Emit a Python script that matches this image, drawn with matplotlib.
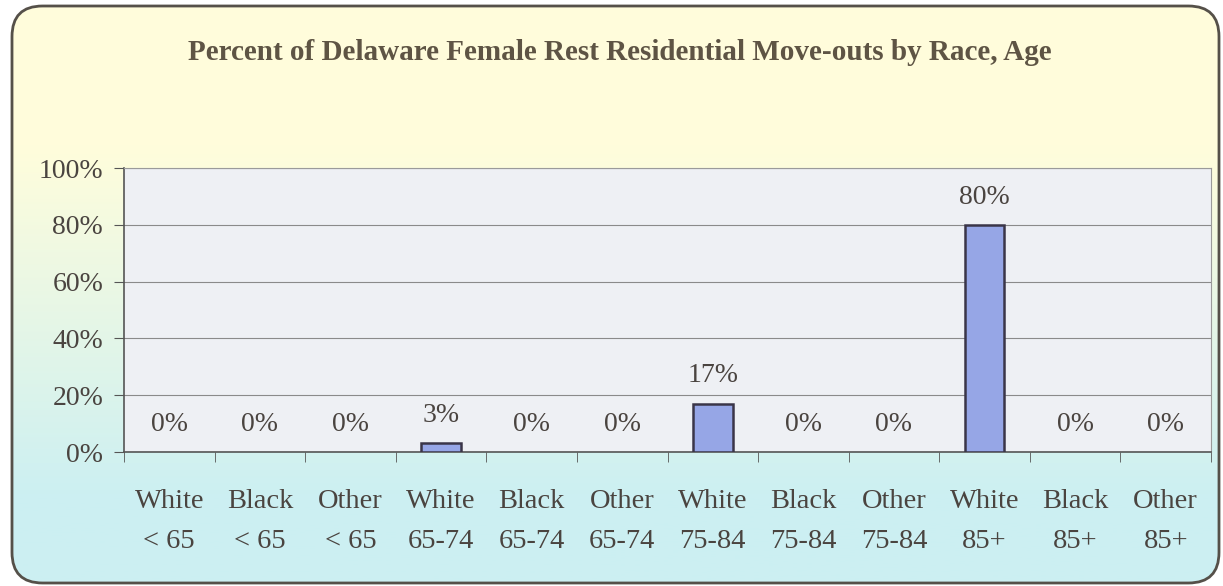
import numpy as np
import matplotlib
matplotlib.use("Agg")
import matplotlib.pyplot as plt
from matplotlib.patches import FancyBboxPatch
from matplotlib.ticker import PercentFormatter

races = ["White", "Black", "Other"] * 4
ages = ["< 65"] * 3 + ["65-74"] * 3 + ["75-84"] * 3 + ["85+"] * 3
percents = [0, 0, 0, 3, 0, 0, 17, 0, 0, 80, 0, 0]
title = "Percent of Delaware Female Rest Residential Move-outs by Race, Age"

text_color = "#4a4440"
plt.rcParams["font.family"] = ["Liberation Serif", "DejaVu Serif"]

fig = plt.figure(figsize=(12.23, 5.86), dpi=100, facecolor="white")

# background panel with rounded border and yellow-to-cyan gradient
bg = fig.add_axes([0, 0, 1, 1], zorder=-1)
bg.set_xlim(0, 1)
bg.set_ylim(0, 1)
bg.axis("off")
t = np.linspace(0, 1, 256).reshape(-1, 1, 1)
t = np.clip((t - 0.25) / 0.6, 0, 1)
top_rgb = np.array([1.0, 0.992, 0.86])
bot_rgb = np.array([0.80, 0.94, 0.95])
img = top_rgb * (1 - t) + bot_rgb * t
im = bg.imshow(img, extent=[0, 1, 0, 1], aspect="auto", origin="upper")
panel = FancyBboxPatch((12 / 1223, 3 / 586), 1207 / 1223, 577 / 586,
                       boxstyle="round,pad=0,rounding_size=0.025",
                       mutation_aspect=1223 / 586,
                       facecolor="none", edgecolor="#555049", linewidth=2)
bg.add_patch(panel)
im.set_clip_path(panel)

fig.text(0.507, 0.911, title, ha="center", va="center", fontsize=21,
         fontweight="bold", color="#5e5444")

ax = fig.add_axes([124 / 1223, 134 / 586, 1087 / 1223, 284 / 586])
ax.set_facecolor("#eef0f4")
x = np.arange(len(percents))
bars = ax.bar(x, percents, width=0.44, color="#96a6e6", edgecolor="#3a3548",
              linewidth=1.8, zorder=3)
for b, v in zip(bars, percents):
    if v == 0:
        b.set_visible(False)
for xi, v in zip(x, percents):
    ax.annotate(f"{v}%", (xi, v), xytext=(0, 20), textcoords="offset points",
                ha="center", va="center", fontsize=20, color=text_color)

ax.set_xlim(-0.5, len(percents) - 0.5)
ax.set_ylim(0, 100)
ax.set_yticks(range(0, 101, 20))
ax.yaxis.set_major_formatter(PercentFormatter(decimals=0))
ax.grid(axis="y", color="#8a8a8a", linewidth=0.8, zorder=1)
ax.tick_params(axis="y", length=7, color="#555", labelsize=20,
               labelcolor=text_color, pad=8)

ax.set_xticks(x)
ax.set_xticklabels([f"{r}\n{a}" for r, a in zip(races, ages)],
                   fontsize=20.5, color=text_color, linespacing=1.75)
ax.tick_params(axis="x", length=0, pad=27)
ax.set_xticks(np.arange(-0.5, len(percents), 1), minor=True)
ax.tick_params(axis="x", which="minor", length=7, color="#555")

for side in ["top", "right"]:
    ax.spines[side].set_color("#9a9a9a")
    ax.spines[side].set_linewidth(0.8)
for side in ["left", "bottom"]:
    ax.spines[side].set_color("#555")
    ax.spines[side].set_linewidth(1.2)

fig.savefig("out.png", dpi=100, facecolor="white")
